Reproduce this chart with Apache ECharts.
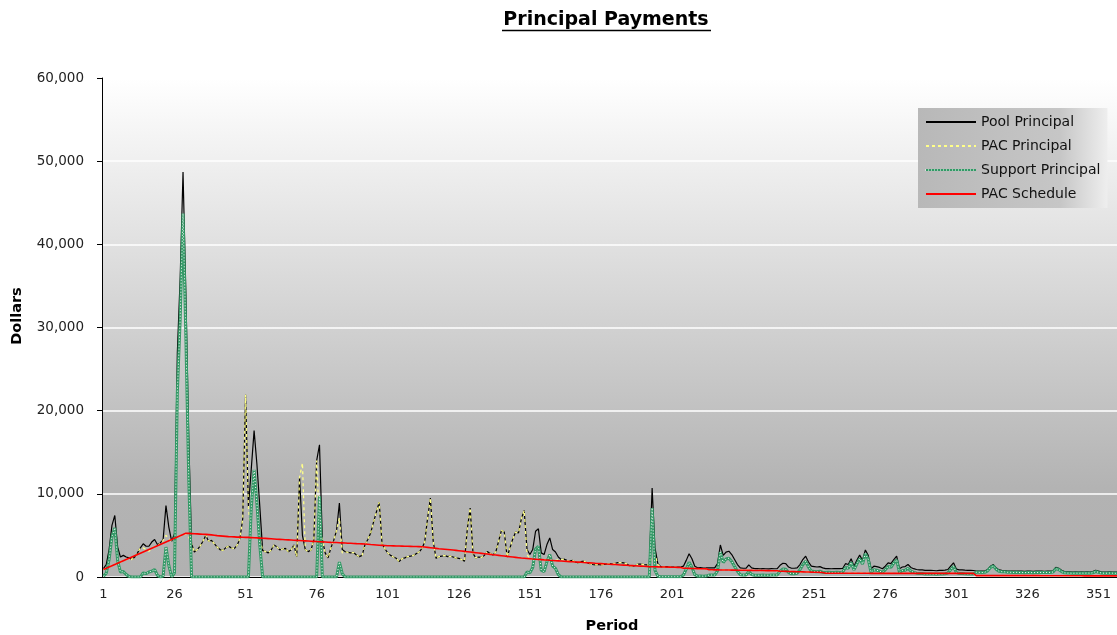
<!DOCTYPE html>
<html>
<head>
<meta charset="utf-8">
<title>Principal Payments</title>
<script src="https://cdn.jsdelivr.net/npm/echarts@6/dist/echarts.min.js"></script>
<style>
  html, body { margin: 0; padding: 0; background: #ffffff; overflow: hidden; }
  #chart { width: 1130px; height: 635px; }
</style>
</head>
<body>
<div id="chart"></div>
<script>
// Monthly periods of the deal (1..360)
const periods = Array.from({ length: 360 }, (_, i) => String(i + 1));

// Total principal collected from the pool each period
const poolPrincipal = [
  1000,1500,3300,6200,7400,3600,2400,2600,2400,2300,
  2100,2400,2900,3500,4000,3700,3700,4200,4500,3900,
  4100,4500,8600,6000,4300,5200,27000,36000,48700,34100,
  16800,4000,3000,3300,3700,4300,5000,4300,4400,4000,
  3600,3300,3200,3500,3700,3500,3400,3800,4600,7000,
  21900,8400,13000,17600,13500,8500,3200,3050,2900,3250,
  3850,3650,3250,3350,3450,3050,3250,3850,2450,12000,
  5000,3300,3050,3250,4400,14000,15900,4500,2900,2300,
  3500,4400,5600,8900,3300,3050,2950,2900,2950,2650,
  2450,2600,3900,4500,5300,6600,7800,9000,4000,3400,
  2900,2600,2400,2250,1850,2200,2300,2450,2500,2600,
  2800,3000,3400,4200,7000,9500,4300,2250,2450,2500,
  2600,2450,2500,2400,2300,2250,2100,1900,5800,8300,
  2800,2300,2400,2350,2600,3050,2850,2650,3000,4300,
  5600,5400,2400,3500,4600,5400,5300,7000,8000,3300,
  2700,3300,5500,5800,2900,2700,3900,4700,3300,3000,
  2400,2100,2150,2000,1900,2000,1800,1700,1850,1900,
  1750,1600,1500,1450,1500,1450,1500,1550,1600,1550,
  1650,1720,1720,1700,1600,1350,1300,1350,1550,1560,
  1500,1450,1450,10700,3500,1600,1240,1220,1240,1220,
  1200,1200,1200,1180,1300,2000,2800,2200,1300,1110,
  1120,1080,1090,1110,1100,1090,1600,3850,2600,3000,
  3100,2700,2100,1500,1100,1050,1050,1450,1100,1000,
  1010,980,1010,990,980,1000,990,1000,1400,1650,
  1600,1200,1050,1050,1100,1500,2100,2500,1800,1300,
  1250,1200,1250,1100,1000,1010,990,1000,1010,1000,
  1030,1600,1500,2200,1300,2000,2650,2000,3250,2600,
  1000,1300,1250,1150,1000,1300,1700,1600,2100,2500,
  1000,1200,1250,1500,1150,1000,900,850,850,800,
  800,800,780,750,800,800,820,900,1300,1700,
  950,850,850,820,800,800,780,720,720,700,
  720,900,1300,1500,1100,850,800,780,720,720,
  700,720,700,700,680,700,700,680,700,700,
  700,680,700,700,750,1150,1050,800,650,620,
  620,600,620,600,620,600,620,600,650,800,
  700,620,600,600,620,600,580,600,580,550
];

// Principal paid to the PAC tranche
const pacPrincipal = [
  900,1050,1200,1350,1500,1650,1800,1950,2100,2250,
  2100,2400,2900,3500,3500,3300,3100,3500,3600,3700,
  4100,4400,5000,4600,4300,4700,4800,4950,5000,5200,
  4800,4000,3000,3300,3700,4300,5000,4300,4400,4000,
  3600,3300,3200,3500,3700,3500,3400,3800,4600,7000,
  21900,8400,4740,4720,4700,4680,3200,3050,2900,3250,
  3850,3650,3250,3350,3450,3050,3250,3850,2450,12000,
  13700,3300,3050,3250,4400,14000,6200,4500,2900,2300,
  3500,4400,5600,7100,2900,3050,2950,2900,2950,2650,
  2450,2600,3900,4500,5300,6600,7800,9000,4000,3400,
  2900,2600,2400,2250,1850,2200,2300,2450,2500,2600,
  2800,3000,3400,4200,7000,9500,4300,2250,2450,2500,
  2600,2450,2500,2400,2300,2250,2100,1900,5800,8300,
  2800,2300,2400,2350,2600,3050,2850,2650,3000,4300,
  5600,5400,2400,3500,4600,5400,5300,7000,8000,2700,
  2200,2160,2140,2110,2090,2060,2040,2010,1990,1960,
  2100,2100,2150,2000,1900,2000,1800,1700,1850,1900,
  1750,1600,1500,1450,1500,1450,1500,1550,1600,1550,
  1650,1720,1720,1700,1600,1350,1300,1350,1550,1560,
  1500,1450,1450,2400,2700,1500,1210,1200,1200,1190,
  1180,1170,1160,1150,1060,1050,1040,1030,1020,1010,
  1000,990,980,880,870,860,860,850,850,840,
  840,830,830,820,820,810,810,800,800,790,
  790,780,780,770,770,760,760,750,700,690,
  680,670,660,650,640,630,620,610,600,590,
  580,570,560,550,450,450,450,450,450,450,
  450,450,450,450,450,450,450,450,450,450,
  440,440,440,440,440,440,440,440,440,440,
  440,440,440,440,440,440,440,440,440,440,
  430,430,430,430,430,430,430,430,430,430,
  430,430,430,430,430,430,430,160,160,160,
  160,160,160,160,160,160,160,160,160,160,
  160,160,160,160,160,160,160,160,160,160,
  150,150,150,150,150,150,150,150,150,150,
  150,150,150,150,150,140,140,140,140,140,
  140,140,140,140,140,140,140,140,140,140
];

// Principal paid to the support (companion) tranche
const supportPrincipal = [
  100,450,2100,4850,5900,1950,600,650,300,50,
  0,0,0,0,500,400,600,700,900,200,
  0,100,3600,1400,0,500,22200,31050,43700,28900,
  12000,0,0,0,0,0,0,0,0,0,
  0,0,0,0,0,0,0,0,0,0,
  0,0,8260,12880,8800,3820,0,0,0,0,
  0,0,0,0,0,0,0,0,0,0,
  0,0,0,0,0,0,9700,0,0,0,
  0,0,0,1800,400,0,0,0,0,0,
  0,0,0,0,0,0,0,0,0,0,
  0,0,0,0,0,0,0,0,0,0,
  0,0,0,0,0,0,0,0,0,0,
  0,0,0,0,0,0,0,0,0,0,
  0,0,0,0,0,0,0,0,0,0,
  0,0,0,0,0,0,0,0,0,600,
  500,1140,3360,3690,810,640,1860,2690,1310,1040,
  300,0,0,0,0,0,0,0,0,0,
  0,0,0,0,0,0,0,0,0,0,
  0,0,0,0,0,0,0,0,0,0,
  0,0,0,8300,800,100,30,20,40,30,
  20,30,40,30,240,950,1760,1170,280,100,
  120,90,110,230,230,230,740,3000,1750,2160,
  2260,1870,1270,680,280,240,240,650,300,210,
  220,200,230,220,210,240,230,250,700,960,
  920,530,390,400,460,870,1480,1890,1200,710,
  670,630,690,550,550,560,540,550,560,550,
  580,1150,1050,1750,850,1550,2200,1550,2800,2150,
  560,860,810,710,560,860,1260,1160,1660,2060,
  560,760,810,1060,710,560,460,410,410,360,
  370,370,350,320,370,370,390,470,870,1270,
  520,420,420,390,370,370,350,560,560,540,
  560,740,1140,1340,940,690,640,620,560,560,
  540,560,540,540,520,540,540,520,540,540,
  550,530,550,550,600,1000,900,650,500,470,
  470,450,470,450,470,460,480,460,510,660,
  560,480,460,460,480,460,440,460,440,410
];

// Scheduled PAC principal
const pacSchedule = [
  900,1050,1200,1350,1500,1650,1800,1950,2100,2250,
  2400,2550,2700,2850,3000,3150,3300,3450,3600,3750,
  3900,4050,4200,4350,4500,4650,4800,4950,5100,5250,
  5240,5220,5200,5180,5160,5140,5120,5100,5060,5020,
  4980,4950,4920,4890,4860,4840,4820,4800,4790,4780,
  4770,4760,4740,4720,4700,4680,4660,4640,4620,4600,
  4570,4540,4520,4500,4480,4460,4440,4420,4400,4380,
  4360,4340,4320,4300,4280,4260,4240,4220,4200,4180,
  4160,4150,4140,4120,4100,4080,4060,4050,4030,4010,
  4000,3980,3960,3930,3900,3880,3850,3820,3800,3780,
  3760,3750,3740,3730,3720,3710,3700,3690,3680,3670,
  3660,3650,3630,3600,3560,3520,3480,3440,3400,3370,
  3340,3310,3280,3240,3200,3160,3120,3080,3040,3000,
  2960,2920,2880,2840,2800,2760,2720,2680,2640,2600,
  2560,2520,2480,2440,2400,2360,2320,2280,2250,2220,
  2190,2160,2140,2110,2090,2060,2040,2010,1990,1960,
  1940,1920,1900,1880,1850,1830,1810,1790,1770,1740,
  1720,1700,1680,1650,1630,1610,1590,1560,1540,1520,
  1500,1480,1450,1430,1410,1390,1370,1350,1330,1310,
  1290,1270,1250,1240,1230,1220,1210,1200,1200,1190,
  1180,1170,1160,1150,1060,1050,1040,1030,1020,1010,
  1000,990,980,880,870,860,860,850,850,840,
  840,830,830,820,820,810,810,800,800,790,
  790,780,780,770,770,760,760,750,700,690,
  680,670,660,650,640,630,620,610,600,590,
  580,570,560,550,450,450,450,450,450,450,
  450,450,450,450,450,450,450,450,450,450,
  440,440,440,440,440,440,440,440,440,440,
  440,440,440,440,440,440,440,440,440,440,
  430,430,430,430,430,430,430,430,430,430,
  430,430,430,430,430,430,430,160,160,160,
  160,160,160,160,160,160,160,160,160,160,
  160,160,160,160,160,160,160,160,160,160,
  150,150,150,150,150,150,150,150,150,150,
  150,150,150,150,150,140,140,140,140,140,
  140,140,140,140,140,140,140,140,140,140
];

const FONT = '"DejaVu Sans", "Liberation Sans", sans-serif';
const chart = echarts.init(document.getElementById('chart'), null, { renderer: 'canvas' });

const plotFill = new echarts.graphic.LinearGradient(0, 0, 0, 1, [
  { offset: 0, color: '#ffffff' },
  { offset: 0.82, color: '#b3b3b3' },
  { offset: 1, color: '#b1b1b1' }
]);
const legendFill = new echarts.graphic.LinearGradient(0, 0, 1, 0, [
  { offset: 0, color: '#b8b8b8' },
  { offset: 0.75, color: '#c6c6c6' },
  { offset: 1, color: '#eeeeee' }
]);

// legend box geometry
const LEG_LEFT = 918, LEG_TOP = 108, LEG_PAD = 7, LEG_ICON_W = 50, LEG_ROW = 14, LEG_GAP = 10;
const supportRowY = LEG_TOP + LEG_PAD + 2 * (LEG_ROW + LEG_GAP) + LEG_ROW / 2;

const option = {
  animation: false,
  backgroundColor: '#ffffff',
  grid: {
    left: 102, top: 78, width: 1023.5, height: 499,
    outerBoundsMode: 'none',
    show: true, borderWidth: 0, backgroundColor: plotFill
  },
  xAxis: {
    type: 'category',
    data: periods,
    boundaryGap: true,
    axisLine: { lineStyle: { color: '#000000', width: 1 } },
    axisTick: { interval: 0, length: 5, lineStyle: { color: '#000000' } },
    axisLabel: { interval: 24, margin: 11, fontFamily: FONT, fontSize: 13, color: '#222222' },
    splitLine: { show: false }
  },
  yAxis: {
    type: 'value',
    min: 0, max: 60000, interval: 10000,
    axisLine: { show: true, lineStyle: { color: '#000000', width: 1 } },
    axisTick: { show: true, length: 5, lineStyle: { color: '#000000' } },
    axisLabel: {
      margin: 18, fontFamily: FONT, fontSize: 13.5, color: '#222222',
      formatter: v => v.toLocaleString('en-US')
    },
    splitLine: { lineStyle: { color: '#ffffff', width: 1.5 } }
  },
  legend: {
    orient: 'vertical',
    left: LEG_LEFT, top: LEG_TOP,
    padding: [LEG_PAD, LEG_PAD, LEG_PAD, LEG_PAD],
    itemWidth: LEG_ICON_W, itemHeight: LEG_ROW, itemGap: LEG_GAP,
    data: ['Pool Principal', 'PAC Principal', 'Support Principal', 'PAC Schedule'],
    itemStyle: { opacity: 0 },
    textStyle: { fontFamily: FONT, fontSize: 14, color: '#111111' },
    backgroundColor: legendFill,
    borderWidth: 0,
    selectedMode: false
  },
  series: [
    {
      name: 'Pool Principal', type: 'line', data: poolPrincipal,
      symbol: 'none', silent: true, z: 2,
      itemStyle: { color: '#000000' },
      lineStyle: { color: '#000000', width: 1.2 }
    },
    {
      name: 'PAC Principal', type: 'line', data: pacPrincipal,
      symbol: 'none', silent: true, z: 3,
      itemStyle: { color: '#ffff88' },
      lineStyle: { color: '#ffff88', width: 1.3, type: [3, 3] }
    },
    {
      name: 'Support Principal', type: 'line', data: supportPrincipal,
      symbol: 'none', silent: true, z: 4,
      itemStyle: { color: '#339966' },
      lineStyle: { color: '#339966', width: 3 }
    },
    {
      // white dotted core of the support line
      name: 'supportCore', type: 'line', data: supportPrincipal,
      symbol: 'none', silent: true, z: 5,
      itemStyle: { color: '#ffffff' },
      lineStyle: { color: '#ffffff', width: 1, type: [1, 2] }
    },
    {
      name: 'PAC Schedule', type: 'line', data: pacSchedule,
      symbol: 'none', silent: true, z: 6,
      itemStyle: { color: '#ff0000' },
      lineStyle: { color: '#ff0000', width: 1.6 }
    }
  ],
  graphic: [
    {
      type: 'text', x: 606, y: 20, silent: true,
      style: {
        text: 'Principal Payments', font: 'bold 19px ' + FONT, fill: '#000000',
        textAlign: 'center', textVerticalAlign: 'middle'
      }
    },
    {
      type: 'line', silent: true,
      shape: { x1: 502, y1: 30.5, x2: 711, y2: 30.5 },
      style: { stroke: '#000000', lineWidth: 1.5 }
    },
    {
      type: 'text', x: 612, y: 626, silent: true,
      style: {
        text: 'Period', font: 'bold 14.5px ' + FONT, fill: '#000000',
        textAlign: 'center', textVerticalAlign: 'middle'
      }
    },
    {
      type: 'text', x: 17, y: 316, rotation: Math.PI / 2, silent: true,
      style: {
        text: 'Dollars', font: 'bold 14.5px ' + FONT, fill: '#000000',
        textAlign: 'center', textVerticalAlign: 'middle'
      }
    },
    {
      // white dotted core on the support legend sample
      type: 'line', silent: true, z: 100,
      shape: {
        x1: LEG_LEFT + LEG_PAD, y1: supportRowY,
        x2: LEG_LEFT + LEG_PAD + LEG_ICON_W, y2: supportRowY
      },
      style: { stroke: '#ffffff', lineWidth: 1, lineDash: [1, 2] }
    }
  ]
};

chart.setOption(option);
</script>
</body>
</html>
